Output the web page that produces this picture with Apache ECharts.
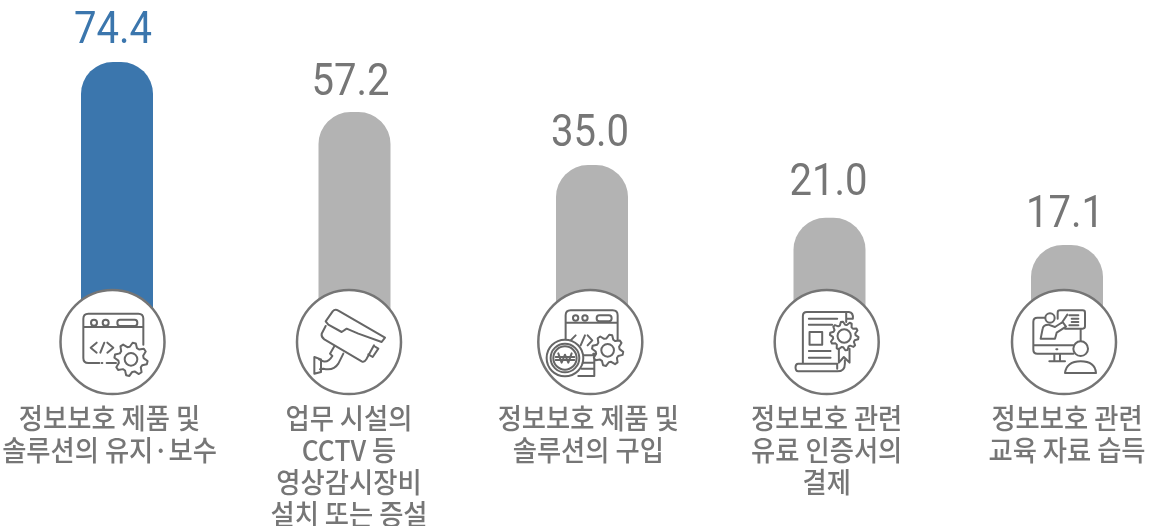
<!DOCTYPE html>
<html>
<head>
<meta charset="utf-8">
<style>
  html, body { margin: 0; padding: 0; background: #fff; }
  #chart { width: 1152px; height: 526px; }
</style>
</head>
<body>
<div id="chart"></div>
<script src="https://cdn.jsdelivr.net/npm/echarts@6/dist/echarts.min.js"></script>
<script>
const categories = [
  "정보보호 제품 및\n솔루션의 유지·보수",
  "업무 시설의\nCCTV 등\n영상감시장비\n설치 또는 증설",
  "정보보호 제품 및\n솔루션의 구입",
  "정보보호 관련\n유료 인증서의\n결제",
  "정보보호 관련\n교육 자료 습득"
];
// printed numbers
const values = [74.4, 57.2, 35.0, 21.0, 17.1];
// the bars in the picture are not to scale with the printed numbers,
// so their drawn level is read off separately (same units as the first bar)
const barLevels = [74.4, 61.1, 47.0, 33.0, 25.8];

const BLUE = "#3b76ad";
const BAR_GREY = "#b3b3b3";
const TEXT_GREY = "#767676";
const ICON_GREY = "#666666";

// hand placement in the original: nothing here lines up exactly with its bar
const circleNudge = [-4.5, -5.5, -1.7, -2.8, -3];
const numberNudgeX = [-4, -4, -2, -1, -2];
const numberNudgeY = [0, 2, 0, -4, 1];
const nameNudgeX = [-3, 0, -2, 0, 3];

function gear(cx, cy, r1, r2, teeth) {
  let d = "";
  let n = teeth * 4;
  for (let i = 0; i < n; i++) {
    let a = (i + 0.5) / n * Math.PI * 2;
    let r = i % 4 < 2 ? r1 : r2;
    d += (i ? "L" : "M") + (cx + r * Math.cos(a)).toFixed(1) + " " + (cy + r * Math.sin(a)).toFixed(1);
  }
  return d + "Z";
}
function circle(cx, cy, r) {
  return "M" + (cx - r) + " " + cy + "A" + r + " " + r + " 0 1 0 " + (cx + r) + " " + cy + "A" + r + " " + r + " 0 1 0 " + (cx - r) + " " + cy + "Z";
}

// icon outlines, in 3x pixels; c is where the circle centre falls
const icons = [
  {
    c: [157.5, 170],
    parts: [
      { d: "M118 233H85Q70 233 70 218V100Q70 85 85 85H235Q250 85 250 100V178M70 125H250M140 233H168" },
      { d: circle(102, 112, 9) + circle(137, 112, 9) + "M180 103H224Q232 103 232 112Q232 122 224 122H180Q172 122 172 112Q172 103 180 103Z" },
      { d: "M110 172L92 187L110 202M133 172L121 202M142 172L160 187L142 202M125 233H127" },
      { d: gear(213, 222, 50, 38, 8) + circle(213, 222, 19), fill: "#fff" }
    ]
  },
  {
    c: [162, 170],
    parts: [
      { d: "M92 108L113 78Q120 70 130 76L270 157L260 170L190 145L155 130L140 140L100 118Z" },
      { d: "M92 122L80 145Q78 155 88 162L200 228Q208 232 214 222L237 180" },
      { d: "M237 182L250 190L233 215L220 207" },
      { d: "M118 183L105 205L112 212Q100 232 85 228L72 222M145 205L130 235Q115 258 85 250L75 252M58 215V265L78 260V222Z" }
    ]
  },
  {
    c: [166, 170],
    parts: [
      { d: "M92 175V90Q92 75 107 75H233Q248 75 248 90V170M92 112H248M175 205H190M140 210H178V232H140M178 232V250H140M130 272H178V250" },
      { d: circle(122, 98, 8) + circle(150, 98, 8) + "M193 90H222Q230 90 230 99Q230 108 222 108H193Q185 108 185 99Q185 90 193 90Z" },
      { d: "M122 150L107 165L122 180M150 150L137 180M158 150L172 165L158 180" },
      { d: gear(218, 195, 47, 36, 8) + circle(218, 195, 19), fill: "#fff" },
      { d: circle(90, 218, 55), fill: "#fff" },
      { d: circle(90, 218, 43) + circle(90, 218, 35) },
      { d: "M70 204L80 232L90 208L100 232L110 204M62 215H118M62 224H118" }
    ]
  },
  {
    c: [163.5, 170],
    parts: [
      { d: "M92 235V92Q92 80 104 80H230Q244 82 242 100H222V110M222 82V100M218 225V235Q218 258 195 258H78Q70 258 70 246Q70 235 78 235H195V250" },
      { d: "M110 100H195M110 118H180M112 140H150V178H112ZM110 197H175M110 217H175" },
      { d: gear(216, 152, 43, 34, 10), fill: "#fff" },
      { d: circle(216, 152, 20) + "M200 190V232L215 215L232 232V190" }
    ]
  },
  {
    c: [162, 170],
    parts: [
      { d: "M105 97H82Q70 97 70 109V193Q70 205 82 205H190M70 180H190M133 205V228M150 205V228M118 228H165M139 192H142" },
      { d: circle(120, 98, 14) },
      { d: "M92 160L98 130Q100 118 115 118L135 125L158 110L168 124L140 142L135 160ZM155 113L172 88" },
      { d: "M150 75H218Q225 75 225 82V123Q225 130 218 130H165M143 100V82Q143 75 150 75M178 90H205M185 100H205M185 110H205M178 120H205M212 130V167" },
      { d: circle(212, 190, 22) },
      { d: "M165 263Q170 228 212 228Q255 228 258 263Z" }
    ]
  }
];

const myChart = echarts.init(document.getElementById("chart"));

function renderItem(params, api) {
  let i = api.value(0);
  let base = api.coord([i, 0]);
  let top = api.coord([i, barLevels[i]]);
  let cx = base[0] + circleNudge[i];
  let cy = base[1];
  let icon = icons[i];
  let children = [
    {
      type: "circle",
      shape: { cx: cx, cy: cy, r: 52 },
      style: { fill: "#fff", stroke: "#757575", lineWidth: 2.5 }
    }
  ];
  icon.parts.forEach((part) => {
    children.push({
      type: "path",
      x: cx - icon.c[0] / 3,
      y: cy - icon.c[1] / 3,
      // the two bare moves pin the box so the outline is not rescaled
      shape: { pathData: "M0 0M340 340" + part.d, x: 0, y: 0, width: 340 / 3, height: 340 / 3 },
      style: { fill: part.fill || "none", stroke: ICON_GREY, lineWidth: 2, lineJoin: "round", lineCap: "round" }
    });
  });
  children.push({
    type: "text",
    x: base[0] + numberNudgeX[i],
    y: top[1] - 30 + numberNudgeY[i],
    scaleX: 0.91,
    style: {
      text: values[i].toFixed(1),
      font: "44px Roboto, sans-serif",
      fill: i === 0 ? BLUE : TEXT_GREY,
      align: "center",
      verticalAlign: "middle"
    }
  });
  children.push({
    type: "text",
    x: cx + nameNudgeX[i],
    y: 402,
    scaleX: 0.94,
    style: {
      text: categories[i],
      font: "500 28px 'Noto Sans CJK KR', sans-serif",
      lineHeight: 32,
      fill: TEXT_GREY,
      align: "center",
      verticalAlign: "top"
    }
  });
  return { type: "group", children: children };
}

const option = {
  animation: false,
  grid: { left: -1.75, width: 1187.5, top: 62, bottom: 184, outerBoundsMode: "none" },
  xAxis: {
    type: "category",
    data: categories,
    axisLine: { show: false },
    axisTick: { show: false },
    axisLabel: { show: false }
  },
  yAxis: { type: "value", min: 0, max: 74.4, show: false },
  series: [
    {
      type: "bar",
      z: 1,
      barWidth: 72,
      data: barLevels.map((v, i) => ({
        value: v,
        itemStyle: { color: i === 0 ? BLUE : BAR_GREY, borderRadius: [32, 32, 0, 0] }
      }))
    },
    {
      type: "custom",
      z: 5,
      renderItem: renderItem,
      clip: false,
      encode: { x: 0, y: 1 },
      data: categories.map((c, i) => [i, 0])
    }
  ]
};
myChart.setOption(option);
</script>
</body>
</html>
